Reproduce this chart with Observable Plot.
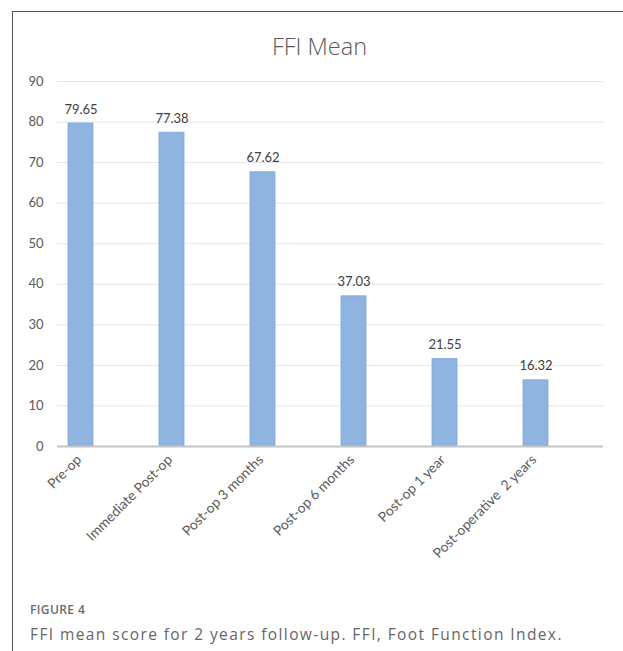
<!DOCTYPE html>
<html>
<head>
<meta charset="utf-8">
<script src="https://cdn.jsdelivr.net/npm/d3@7"></script>
<script src="https://cdn.jsdelivr.net/npm/@observablehq/plot@0.6"></script>
<style>
  html, body { margin: 0; padding: 0; background: #fff; }
  #page { position: relative; width: 623px; height: 651px; overflow: hidden; background: #fff; }
  #frame { position: absolute; left: 12px; top: 11px; width: 640px; height: 700px;
           border-top: 1.5px solid #555; border-left: 1.5px solid #555; }
  #title { position: absolute; left: 0; width: 639px; top: 35px; text-align: center; line-height: 1;
           font-family: "Open Sans", sans-serif; font-weight: 300; font-size: 23.5px; color: #595959; }
  #chart { position: absolute; left: 0; top: 0; }
  #fig { position: absolute; left: 30px; top: 603.6px; line-height: 1; font-family: "Open Sans", sans-serif;
         font-weight: 600; font-size: 12px; letter-spacing: 0.4px; color: #6b6b6b; }
  #cap { position: absolute; left: 30px; top: 627.3px; line-height: 1; white-space: nowrap; font-family: "Open Sans", sans-serif;
         font-size: 15.5px; letter-spacing: 1.4px; color: #666; }
</style>
</head>
<body>
<div id="page">
  <div id="frame"></div>
  <div id="chart"></div>
  <div id="title">FFI Mean</div>
  <div id="fig">FIGURE 4</div>
  <div id="cap">FFI mean score for 2 years follow-up. FFI, Foot Function Index.</div>
</div>
<script>
const categories = ["Pre-op", "Immediate Post-op", "Post-op 3 months", "Post-op 6 months", "Post-op 1 year", "Post-operative\u00a0 2 years"];
const means = [79.65, 77.38, 67.62, 37.03, 21.55, 16.32];
const yTicks = [0, 10, 20, 30, 40, 50, 60, 70, 80, 90];

const data = categories.map((c, i) => ({category: c, mean: means[i], label: means[i].toFixed(2)}));

const chart = Plot.plot({
  width: 623,
  height: 560,
  marginTop: 81,
  marginBottom: 114,
  marginLeft: 57,
  marginRight: 20,
  style: {fontFamily: "Lato, sans-serif", fontSize: "12.5px", color: "#595959", background: "transparent"},
  x: {domain: categories, range: [34, 581], padding: 0, label: null},
  y: {domain: [0, 90], ticks: yTicks, label: null},
  marks: [
    Plot.gridY(yTicks.filter(d => d > 0), {stroke: "#e6e6e6", strokeOpacity: 1, strokeWidth: 1}),
    Plot.barY(data, {x: "category", y: "mean", fill: "#8fb4e0", stroke: "#7ea7d8", strokeWidth: 0.8, insetLeft: 33, insetRight: 33}),
    Plot.ruleY([0], {stroke: "#c4c4c4", strokeWidth: 2}),
    Plot.text(data, {x: "category", y: "mean", text: "label", dy: -14, fill: "#404040", fontSize: 13}),
    Plot.axisY(yTicks, {tickSize: 0, tickPadding: 14, fontSize: 13, fill: "#595959"}),
    Plot.axisX({tickSize: 0, tickPadding: 11, tickRotate: -45, fontSize: 13.8, fill: "#595959", label: null, dx: -2})
  ]
});
document.getElementById("chart").appendChild(chart);
</script>
</body>
</html>
